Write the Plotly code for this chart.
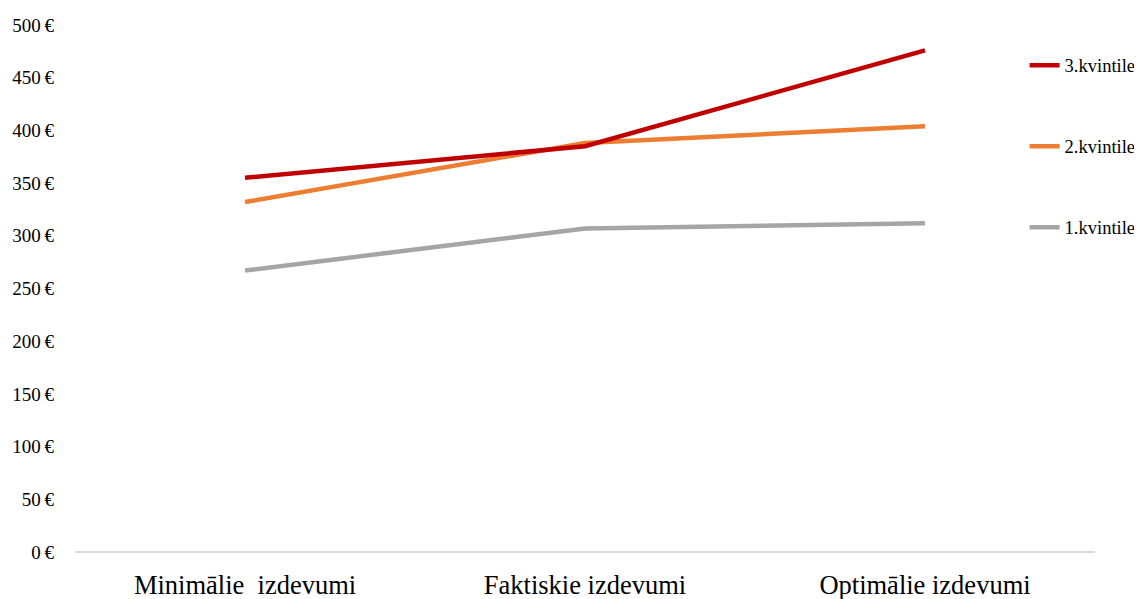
import plotly.graph_objects as go

categories = ["Minimālie  izdevumi", "Faktiskie izdevumi", "Optimālie izdevumi"]
series_names = ["1.kvintile", "2.kvintile", "3.kvintile"]
q1 = [267, 307, 312]
q2 = [332, 388, 404]
q3 = [355, 385, 476]
colors = ["#A5A5A5", "#ED7D31", "#C00000"]
tick_vals = [0, 50, 100, 150, 200, 250, 300, 350, 400, 450, 500]
tick_text = [f"{v}\u2009€" for v in tick_vals]

fig = go.Figure()
for i, (name, vals, col) in enumerate(zip(series_names, [q1, q2, q3], colors)):
    fig.add_trace(go.Scatter(
        x=categories, y=vals, name=name, mode="lines",
        line=dict(color=col, width=4.5), legendgroup=name,
        legendrank=10 - i,
    ))

fig.update_layout(
    width=1142, height=599,
    margin=dict(l=67, r=55, t=17, b=55, autoexpand=False),
    paper_bgcolor="white", plot_bgcolor="white",
    font=dict(family="Liberation Serif, Times New Roman, serif", color="#000000"),
    showlegend=True,
    legend=dict(
        x=0.931, y=0.959, xanchor="left", yanchor="top",
        traceorder="grouped", tracegroupgap=54,
        font=dict(size=18.5, family="Liberation Serif"),
        bgcolor="rgba(0,0,0,0)",
    ),
    xaxis=dict(
        type="category", range=[-0.5, 2.5], showgrid=False, showline=False,
        zeroline=False, automargin=False,
        tickfont=dict(size=26.5), ticks="", ticklabelstandoff=14,
    ),
    yaxis=dict(
        range=[0, 500], tickvals=tick_vals, ticktext=tick_text, automargin=False,
        showgrid=False, zeroline=True, zerolinecolor="#D9D9D9", zerolinewidth=1.5,
        showline=False, ticks="", tickfont=dict(size=19), ticklabelstandoff=20,
    ),
)
fig.write_html("out.html")
